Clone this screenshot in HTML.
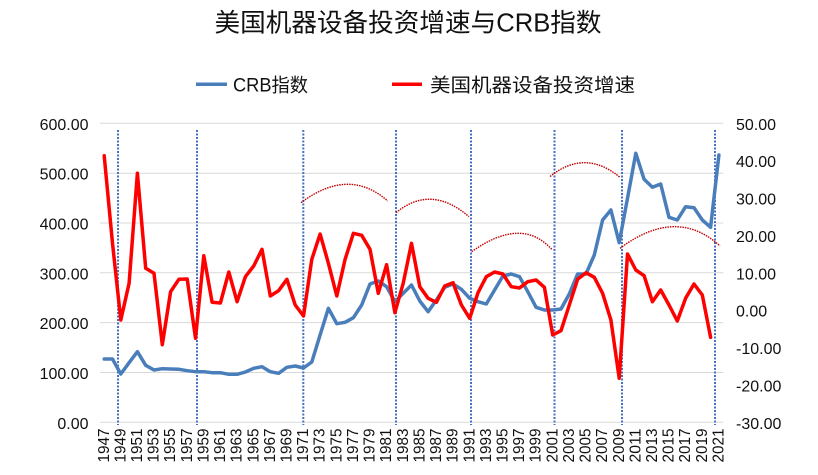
<!DOCTYPE html>
<html>
<head>
<meta charset="utf-8">
<style>
html,body{margin:0;padding:0;background:#fff;}
svg{display:block;font-family:"Liberation Sans","Noto Sans CJK SC",sans-serif;}
</style>
</head>
<body>
<svg width="818" height="475" viewBox="0 0 818 475" xmlns="http://www.w3.org/2000/svg">
<rect width="818" height="475" fill="#fff"/>
<!-- title -->
<text x="408" y="31.5" text-anchor="middle" font-size="25.5" fill="#111" textLength="387" lengthAdjust="spacingAndGlyphs">美国机器设备投资增速与CRB指数</text>
<!-- legend -->
<line x1="196" y1="84.3" x2="227" y2="84.3" stroke="#4A7EBB" stroke-width="3.5"/>
<text x="233" y="91.5" font-size="19" fill="#111" textLength="75" lengthAdjust="spacingAndGlyphs">CRB指数</text>
<line x1="392" y1="84.3" x2="422" y2="84.3" stroke="#FF0000" stroke-width="3.5"/>
<text x="430" y="91.5" font-size="19" fill="#111" textLength="205" lengthAdjust="spacingAndGlyphs">美国机器设备投资增速</text>
<!-- gridlines -->
<g stroke="#D9D9D9" stroke-width="1">
<line x1="100" y1="123.3" x2="723.3" y2="123.3"/>
<line x1="100" y1="173.2" x2="723.3" y2="173.2"/>
<line x1="100" y1="223" x2="723.3" y2="223"/>
<line x1="100" y1="272.8" x2="723.3" y2="272.8"/>
<line x1="100" y1="322.6" x2="723.3" y2="322.6"/>
<line x1="100" y1="372.5" x2="723.3" y2="372.5"/>
<line x1="100" y1="422.3" x2="723.3" y2="422.3"/>
</g>
<!-- left axis labels -->
<g font-size="16" fill="#111" text-anchor="end">
<text x="88.5" y="129.8">600.00</text>
<text x="88.5" y="179.7">500.00</text>
<text x="88.5" y="229.5">400.00</text>
<text x="88.5" y="279.3">300.00</text>
<text x="88.5" y="329.1">200.00</text>
<text x="88.5" y="379">100.00</text>
<text x="88.5" y="428.8">0.00</text>
</g>
<!-- right axis labels -->
<g font-size="16" fill="#111" text-anchor="start">
<text x="736" y="129.8">50.00</text>
<text x="736" y="167.2">40.00</text>
<text x="736" y="204.5">30.00</text>
<text x="736" y="241.9">20.00</text>
<text x="736" y="279.3">10.00</text>
<text x="736" y="316.7">0.00</text>
<text x="736" y="354">-10.00</text>
<text x="736" y="391.4">-20.00</text>
<text x="736" y="428.8">-30.00</text>
</g>
<!-- x labels -->
<g font-size="15.5" fill="#111" text-anchor="end">
<text transform="translate(108.8,428.5) rotate(-90)" textLength="34" lengthAdjust="spacingAndGlyphs">1947</text>
<text transform="translate(125.4,428.5) rotate(-90)" textLength="34" lengthAdjust="spacingAndGlyphs">1949</text>
<text transform="translate(142,428.5) rotate(-90)" textLength="34" lengthAdjust="spacingAndGlyphs">1951</text>
<text transform="translate(158.6,428.5) rotate(-90)" textLength="34" lengthAdjust="spacingAndGlyphs">1953</text>
<text transform="translate(175.2,428.5) rotate(-90)" textLength="34" lengthAdjust="spacingAndGlyphs">1955</text>
<text transform="translate(191.8,428.5) rotate(-90)" textLength="34" lengthAdjust="spacingAndGlyphs">1957</text>
<text transform="translate(208.4,428.5) rotate(-90)" textLength="34" lengthAdjust="spacingAndGlyphs">1959</text>
<text transform="translate(225,428.5) rotate(-90)" textLength="34" lengthAdjust="spacingAndGlyphs">1961</text>
<text transform="translate(241.7,428.5) rotate(-90)" textLength="34" lengthAdjust="spacingAndGlyphs">1963</text>
<text transform="translate(258.3,428.5) rotate(-90)" textLength="34" lengthAdjust="spacingAndGlyphs">1965</text>
<text transform="translate(274.9,428.5) rotate(-90)" textLength="34" lengthAdjust="spacingAndGlyphs">1967</text>
<text transform="translate(291.5,428.5) rotate(-90)" textLength="34" lengthAdjust="spacingAndGlyphs">1969</text>
<text transform="translate(308.1,428.5) rotate(-90)" textLength="34" lengthAdjust="spacingAndGlyphs">1971</text>
<text transform="translate(324.7,428.5) rotate(-90)" textLength="34" lengthAdjust="spacingAndGlyphs">1973</text>
<text transform="translate(341.4,428.5) rotate(-90)" textLength="34" lengthAdjust="spacingAndGlyphs">1975</text>
<text transform="translate(358,428.5) rotate(-90)" textLength="34" lengthAdjust="spacingAndGlyphs">1977</text>
<text transform="translate(374.6,428.5) rotate(-90)" textLength="34" lengthAdjust="spacingAndGlyphs">1979</text>
<text transform="translate(391.2,428.5) rotate(-90)" textLength="34" lengthAdjust="spacingAndGlyphs">1981</text>
<text transform="translate(407.8,428.5) rotate(-90)" textLength="34" lengthAdjust="spacingAndGlyphs">1983</text>
<text transform="translate(424.4,428.5) rotate(-90)" textLength="34" lengthAdjust="spacingAndGlyphs">1985</text>
<text transform="translate(441,428.5) rotate(-90)" textLength="34" lengthAdjust="spacingAndGlyphs">1987</text>
<text transform="translate(457.6,428.5) rotate(-90)" textLength="34" lengthAdjust="spacingAndGlyphs">1989</text>
<text transform="translate(474.3,428.5) rotate(-90)" textLength="34" lengthAdjust="spacingAndGlyphs">1991</text>
<text transform="translate(490.9,428.5) rotate(-90)" textLength="34" lengthAdjust="spacingAndGlyphs">1993</text>
<text transform="translate(507.5,428.5) rotate(-90)" textLength="34" lengthAdjust="spacingAndGlyphs">1995</text>
<text transform="translate(524.1,428.5) rotate(-90)" textLength="34" lengthAdjust="spacingAndGlyphs">1997</text>
<text transform="translate(540.7,428.5) rotate(-90)" textLength="34" lengthAdjust="spacingAndGlyphs">1999</text>
<text transform="translate(557.3,428.5) rotate(-90)" textLength="34" lengthAdjust="spacingAndGlyphs">2001</text>
<text transform="translate(573.9,428.5) rotate(-90)" textLength="34" lengthAdjust="spacingAndGlyphs">2003</text>
<text transform="translate(590.6,428.5) rotate(-90)" textLength="34" lengthAdjust="spacingAndGlyphs">2005</text>
<text transform="translate(607.2,428.5) rotate(-90)" textLength="34" lengthAdjust="spacingAndGlyphs">2007</text>
<text transform="translate(623.8,428.5) rotate(-90)" textLength="34" lengthAdjust="spacingAndGlyphs">2009</text>
<text transform="translate(640.4,428.5) rotate(-90)" textLength="34" lengthAdjust="spacingAndGlyphs">2011</text>
<text transform="translate(657,428.5) rotate(-90)" textLength="34" lengthAdjust="spacingAndGlyphs">2013</text>
<text transform="translate(673.6,428.5) rotate(-90)" textLength="34" lengthAdjust="spacingAndGlyphs">2015</text>
<text transform="translate(690.2,428.5) rotate(-90)" textLength="34" lengthAdjust="spacingAndGlyphs">2017</text>
<text transform="translate(706.9,428.5) rotate(-90)" textLength="34" lengthAdjust="spacingAndGlyphs">2019</text>
<text transform="translate(723.5,428.5) rotate(-90)" textLength="34" lengthAdjust="spacingAndGlyphs">2021</text>
</g>
<!-- dotted vertical lines -->
<g stroke="#4472C4" stroke-width="2" stroke-dasharray="2 1.5">
<line x1="118" y1="130" x2="118" y2="425"/>
<line x1="197" y1="130" x2="197" y2="425"/>
<line x1="303.3" y1="130" x2="303.3" y2="425"/>
<line x1="396" y1="130" x2="396" y2="425"/>
<line x1="471" y1="130" x2="471" y2="425"/>
<line x1="554.5" y1="130" x2="554.5" y2="425"/>
<line x1="622" y1="130" x2="622" y2="425"/>
<line x1="715" y1="130" x2="715" y2="425"/>
</g>
<!-- arcs -->
<g fill="none" stroke="#C00000" stroke-width="1.4" stroke-dasharray="1.5 1">
<path d="M301,202.7 Q349,166.75 387.7,201"/>
<path d="M396,212.7 Q430.9,183.9 469,216.7"/>
<path d="M471.7,251.7 Q521.7,216.1 551.7,249.3"/>
<path d="M550,176.5 Q585,148.5 620,177.3"/>
<path d="M620,248.3 Q676.6,206.25 720,246"/>
</g>
<!-- CRB series -->
<polyline fill="none" stroke="#4A7EBB" stroke-width="3.5" stroke-linejoin="round" stroke-linecap="round" points="104.2,359 112.5,359 120.8,374 129.1,362.7 137.4,351.7 145.7,365.3 154,370 162.3,368.7 170.6,369 178.9,369.3 187.2,370.7 195.5,371.7 203.8,371.7 212.1,372.7 220.4,372.7 228.8,374.3 237.1,374.3 245.4,372 253.7,368.3 262,366.7 270.3,371.7 278.6,373.3 286.9,367.3 295.2,366 303.5,368 311.8,362 320.1,335 328.4,308.3 336.8,323.7 345.1,322.3 353.4,317.7 361.7,305 370,284 378.3,281 386.6,286.7 394.9,301.7 403.2,293.3 411.5,285 419.8,301 428.1,311.7 436.4,300 444.7,287.3 453,284 461.4,289.3 469.7,298.3 478,301.7 486.3,304 494.6,290 502.9,276 511.2,274 519.5,276.7 527.8,291.7 536.1,307.3 544.4,310 552.7,310 561,309 569.3,294 577.6,274 586,274 594.3,255 602.6,220 610.9,210 619.2,242.7 627.5,198.3 635.8,153.3 644.1,179.3 652.4,187.3 660.7,184 669,217.3 677.3,220 685.6,206.7 694,207.7 702.3,220 710.6,227.3 718.9,155"/>
<!-- investment growth series -->
<polyline fill="none" stroke="#FF0000" stroke-width="3.5" stroke-linejoin="round" stroke-linecap="round" points="104.2,155.7 112.5,243.3 120.8,320 129.1,283.3 137.4,173.3 145.7,268.3 154,273.3 162.3,344.7 170.6,291.7 178.9,279.3 187.2,279 195.5,338.3 203.8,255.7 212.1,302.3 220.4,303 228.8,272 237.1,301.7 245.4,276.7 253.7,266 262,249.3 270.3,296 278.6,290.7 286.9,279.3 295.2,305 303.5,316 311.8,259.3 320.1,234 328.4,263.3 336.8,296 345.1,259.3 353.4,233.3 361.7,235.3 370,249.3 378.3,293.3 386.6,264.7 394.9,312.7 403.2,283.3 411.5,243.3 419.8,286.7 428.1,298.3 436.4,302.3 444.7,286 453,282.7 461.4,305 469.7,318.3 478,292.7 486.3,276.7 494.6,272 502.9,274 511.2,286.7 519.5,288 527.8,281.7 536.1,280 544.4,287.3 552.7,335 561,330.7 569.3,305 577.6,279.3 586,272.7 594.3,277.3 602.6,293.3 610.9,320 619.2,378.3 627.5,254 635.8,270 644.1,275.7 652.4,301.7 660.7,290 669,305 677.3,321 685.6,298.3 694,284 702.3,295 710.6,337.3"/>
</svg>
</body>
</html>
